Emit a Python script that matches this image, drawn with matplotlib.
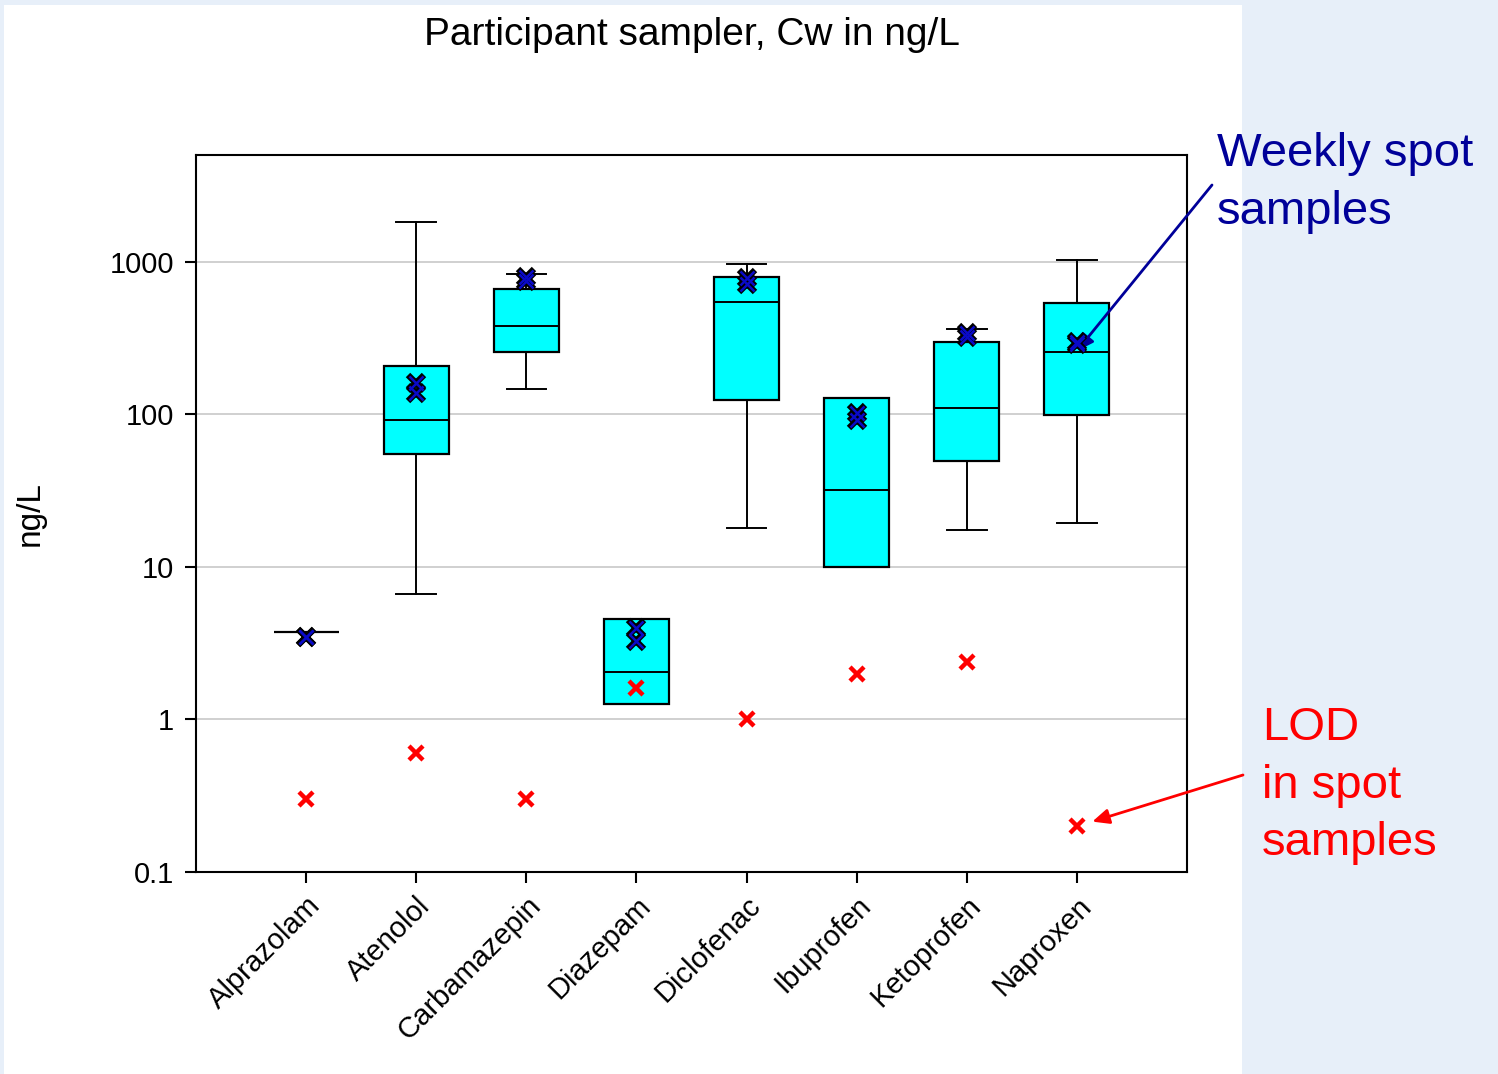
import numpy as np
import matplotlib
matplotlib.use("Agg")
import matplotlib.pyplot as plt
from matplotlib.patches import Rectangle

plt.rcParams['font.family'] = ['Liberation Sans', 'DejaVu Sans']

# compounds
compounds = ['Alprazolam', 'Atenolol', 'Carbamazepin', 'Diazepam',
             'Diclofenac', 'Ibuprofen', 'Ketoprofen', 'Naproxen']

# participant sampler box statistics (ng/L)
whis_lo = [3.72, 6.7, 146, 1.27, 17.9, 10, 17.6, 19.3]
q1 = [3.72, 54.7, 255, 1.27, 125, 10, 49.9, 98.5]
median = [3.72, 92.7, 383, 2.06, 543, 32.2, 111, 255]
q3 = [3.72, 209, 670, 4.53, 803, 129, 301, 535]
whis_hi = [3.72, 1816, 828, 4.53, 963, 129, 366, 1023]

# weekly spot samples (two per compound)
spot_a = [3.45, 162, 803, 4.01, 780, 103, 340, 300]
spot_b = [3.45, 139, 745, 3.25, 712, 91.4, 320, 290]

# LOD in spot samples
lod = [0.3, 0.6, 0.3, 1.6, 1.0, 2.0, 2.4, 0.2]

fig = plt.figure(figsize=(14.98, 10.74), dpi=100, facecolor='#e7eff9')
fig.patches.append(Rectangle((4 / 1498, 0), 1238 / 1498, 1 - 5 / 1074,
                             transform=fig.transFigure, facecolor='white',
                             edgecolor='none', zorder=-5))

ax = fig.add_axes([196 / 1498, 1 - 872 / 1074, 991 / 1498, 717 / 1074])
pos = np.arange(len(compounds))

stats = []
for i in range(len(compounds)):
    stats.append(dict(whislo=whis_lo[i], q1=q1[i], med=median[i],
                      q3=q3[i], whishi=whis_hi[i], fliers=[]))

ax.bxp(stats, positions=pos, widths=0.59, patch_artist=True,
       showfliers=False, capwidths=0.36,
       boxprops=dict(facecolor='#00ffff', edgecolor='black', linewidth=1.6),
       medianprops=dict(color='black', linewidth=1.4),
       whiskerprops=dict(color='black', linewidth=1.4),
       capprops=dict(color='black', linewidth=1.4))

for vals in (spot_a, spot_b):
    ax.plot(pos, vals, linestyle='none', marker='x', markersize=12,
            markeredgewidth=4.5, color='black', zorder=5)
    ax.plot(pos, vals, linestyle='none', marker='x', markersize=10.5,
            markeredgewidth=1.8, color='#0a0ac8', zorder=6)

ax.plot(pos, lod, linestyle='none', marker='x', markersize=10.5,
        markeredgewidth=3.2, color='#ff0000', zorder=6)

ax.set_yscale('log')
ax.set_ylim(0.1, 5030)
ax.set_xlim(-1, 8)
ax.set_yticks([0.1, 1, 10, 100, 1000])
ax.set_yticklabels(['0.1', '1', '10', '100', '1000'])
ax.yaxis.set_minor_locator(matplotlib.ticker.NullLocator())
ax.set_xticks(pos)
ax.set_xticklabels(compounds, rotation=45, ha='right', rotation_mode='anchor')
ax.tick_params(axis='both', labelsize=21, length=8, width=1.5, direction='out')
ax.tick_params(axis='x', pad=6)
ax.tick_params(axis='y', pad=8)
ax.grid(axis='y', color='#c8c8c8', linewidth=1.2)
ax.set_axisbelow(True)
for s in ax.spines.values():
    s.set_linewidth(1.5)

ax.set_ylabel('ng/L', fontsize=24)
ax.yaxis.set_label_coords(-0.152, 0.5)
fig.text(692 / 1498, 1 - 35 / 1074, 'Participant sampler, Cw in ng/L',
         fontsize=28, ha='center', va='center')

# annotations
fig.text(1217 / 1498, 1 - 132 / 1074, 'Weekly spot\nsamples', fontsize=34,
         color='#000099', ha='left', va='top', linespacing=1.4)
fig.text(1262 / 1498, 1 - 706 / 1074, 'LOD\nin spot\nsamples', fontsize=34,
         color='#ff0000', ha='left', va='top', linespacing=1.4)

ax.annotate('', xy=(pos[7], spot_a[7] * 0.87), xycoords='data',
            xytext=(1212, 1074 - 185), textcoords='figure pixels',
            arrowprops=dict(arrowstyle='-|>,head_length=1.0,head_width=0.45',
                            color='#000099', lw=2, shrinkA=0, shrinkB=0))
ax.annotate('', xy=(pos[7] + 0.14, lod[7] * 1.07), xycoords='data',
            xytext=(1243, 1074 - 775), textcoords='figure pixels',
            arrowprops=dict(arrowstyle='-|>,head_length=1.0,head_width=0.45',
                            color='#ff0000', lw=2, shrinkA=0, shrinkB=0))

fig.savefig('out.png', dpi=100, facecolor=fig.get_facecolor())
